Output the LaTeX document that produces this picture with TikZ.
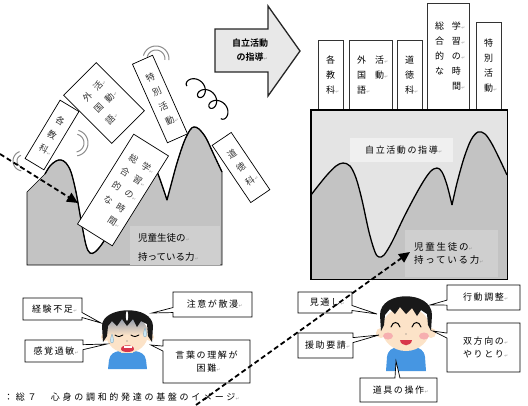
\documentclass[tikz,border=0pt]{standalone}
\usepackage{fontspec}
\setmainfont[BoldFont={Noto Sans CJK JP Bold}]{Noto Sans CJK JP}
\newfontfamily\spfont[LetterSpace=18]{Noto Sans CJK JP}
\newfontfamily\capfont[LetterSpace=30]{Noto Sans CJK JP}
\newfontfamily\dejavu{DejaVu Sans}
\usetikzlibrary{shapes.callouts,arrows.meta}

\definecolor{mtn}{HTML}{C3C3C3}
\definecolor{mtnlab}{HTML}{CFCFCF}
\definecolor{panel}{HTML}{E4E4E4}
\definecolor{panellab}{HTML}{F0F0F0}
\definecolor{arrowfill}{HTML}{E8E8E8}
\definecolor{skin}{HTML}{FCE3C8}
\definecolor{shirt}{HTML}{4696E2}
\definecolor{cheek}{HTML}{F6AFB0}
\definecolor{mouthred}{HTML}{D8364B}
\definecolor{sweat}{HTML}{A9D8F2}
\definecolor{gloom}{HTML}{8D98A8}

% small paragraph mark after a line
\newcommand\pmk{\rlap{\kern0.4pt{\fontsize{4.5}{4.5}\selectfont\color{black!40}\dejavu ↵}}}

\begin{document}
\begin{tikzpicture}[x=1pt,y=-1pt,
  every node/.style={inner sep=0pt},
  lbl/.style={draw=black, line width=0.7pt, fill=white, align=left, text=black!80,
    font=\fontsize{9}{16}\selectfont},
  stickbox/.style={draw=black!80, line width=0.5pt, fill=white, anchor=south, align=left,
    font=\fontsize{9}{15}\selectfont},
  callbox/.style={rectangle callout, draw=black, line width=0.7pt, fill=white,
    callout pointer width=5pt, align=center, font=\spfont\fontsize{9}{13}\selectfont},
  dasharrow/.style={line width=1.8pt, dash pattern=on 5pt off 3pt,
    -{Triangle[length=11pt,width=10pt]}},
  wave/.style={draw=black!45, line width=1pt},
  curve/.style={line width=1.3pt}]
\useasboundingbox (0,0) rectangle (528,405);

% ---------- left: the child's ability as a rugged range ----------
\filldraw[fill=mtn, draw=black, line width=0.6pt] (27,265) -- (27,192) -- (45,174)
  -- plot[smooth,tension=0.55] coordinates {(45,174) (50,166) (56,161) (61,160) (66,163) (71,172)
     (76,192) (81,220) (86,245) (90,253) (95,252) (102,244) (112,228) (125,205) (140,182)
     (150,168) (154,166) (158,174) (163,188) (167,200)}
  -- plot[smooth,tension=0.55] coordinates {(167,200) (171,185) (177,163) (184,142) (190,130)
     (194,127) (199,129) (206,138) (214,155) (222,172)}
  -- (222,265) -- cycle;
\draw[curve] plot[smooth,tension=0.55] coordinates {(45,174) (50,166) (56,161) (61,160) (66,163) (71,172)
     (76,192) (81,220) (86,245) (90,253) (95,252) (102,244) (112,228) (125,205) (140,182)
     (150,168) (154,166) (158,174) (163,188) (167,200)};
\draw[curve] plot[smooth,tension=0.55] coordinates {(167,200) (171,185) (177,163) (184,142) (190,130)
     (194,127) (199,129) (206,138) (214,155) (222,172)};

\node[fill=mtnlab, minimum width=90pt, minimum height=39pt] (lpow) at (175,245) {};
\node[anchor=west, align=left, font=\fontsize{9.5}{19}\selectfont] (lpowtxt) at (138,247)
  {児童生徒の\pmk\\持っている力\pmk};

% shaking marks and a coiled spring running down to the right
\draw[wave] plot[domain=165:-5, samples=25, smooth] ({156+9*cos(\x)}, {59-9*sin(\x)});
\draw[wave] plot[domain=165:-5, samples=25, smooth] ({156+13*cos(\x)}, {59-13*sin(\x)});
\draw[wave] plot[domain=75:-80, samples=25, smooth] ({75+9*cos(\x)}, {143-9*sin(\x)});
\draw[wave] plot[domain=75:-80, samples=25, smooth] ({75+13*cos(\x)}, {143-13*sin(\x)});
\draw[wave] plot[domain=110:260, samples=25, smooth] ({23+6*cos(\x)}, {161-6*sin(\x)});
\draw[wave] plot[domain=110:260, samples=25, smooth] ({23+10*cos(\x)}, {161-10*sin(\x)});
\draw[line width=1.1pt]
  plot[domain=0:18.85, samples=180, smooth]
  ({187 + 0.72*(2.5*\x - 6.5*sin(\x r)) - 0.69*(6.5*cos(\x r)-6.5)},
   {86 + 0.69*(2.5*\x - 6.5*sin(\x r)) + 0.72*(6.5*cos(\x r)-6.5)});

% subject cards, tossed about
\node[lbl, rotate=-31, minimum width=22pt, minimum height=68pt] (t1) at (52,135) {各\\教\\科\pmk};
\node[lbl, rotate=45, minimum width=46pt, minimum height=68pt] (t2) at (104,103)
  {外\hspace{6pt}活\pmk\\国\hspace{6pt}動\pmk\\語\pmk};
\node[lbl, rotate=24, minimum width=22pt, minimum height=86pt] (t3) at (160,99) {特\\別\\活\\動\pmk};
\node[lbl, rotate=-32, minimum width=41pt, minimum height=106pt] (t4) at (123,190)
  {総\hspace{6pt}学\pmk\\合\hspace{6pt}習\pmk\\的\hspace{6pt}の\pmk\\な\hspace{6pt}時\\\hphantom{な}\hspace{6pt}間\pmk};
\node[lbl, rotate=34, minimum width=23pt, minimum height=69pt] (t5) at (241,167.5) {道\\徳\\科\pmk};

% ---------- middle: guidance arrow ----------
\filldraw[fill=arrowfill, draw=black!85, line width=1.3pt]
  (215,29) -- (268,29) -- (268,6) -- (300,51) -- (268,96) -- (268,72) -- (215,72) -- cycle;
\node[font=\bfseries\fontsize{9}{14}\selectfont, align=center] (guide) at (250,50) {自立活動\\の指導\pmk};

% ---------- right: subjects standing on a steady base ----------
\node[stickbox, minimum width=25pt, minimum height=70pt] (s1) at (330.5,110) {各\\教\\科\pmk};
\node[stickbox, minimum width=43pt, minimum height=70pt] (s2) at (370.5,110)
  {外\hspace{9pt}活\pmk\\国\hspace{9pt}動\pmk\\語\pmk};
\node[stickbox, minimum width=25pt, minimum height=70pt] (s3) at (409.5,110) {道\\徳\\科\pmk};
\node[stickbox, minimum width=42pt, minimum height=107pt] (s4) at (448,110)
  {総\hspace{8pt}学\pmk\\合\hspace{8pt}習\pmk\\的\hspace{8pt}の\pmk\\な\hspace{8pt}時\\\hphantom{な}\hspace{8pt}間\pmk};
\node[stickbox, minimum width=25pt, minimum height=88pt] (s5) at (488.5,110) {特\\別\\活\\動\pmk};

\node[fill=panel, minimum width=196pt, minimum height=169pt, anchor=north west] (rpanel) at (311,110) {};
\fill[mtn] (311,279) -- (311,195)
  -- plot[smooth,tension=0.55] coordinates {(311,195) (318,186) (327,175) (336,166) (343,163) (350,166)
     (356,178) (362,200) (369,232) (375,252) (379,257) (384,255) (392,242) (405,215) (420,187)
     (430,172) (437,168) (442,172) (447,185) (452,205)}
  -- plot[smooth,tension=0.55] coordinates {(452,205) (457,183) (464,158) (471,140) (478,132)
     (485,134) (492,144) (500,160) (507,175)}
  -- (507,279) -- cycle;
\draw[curve] plot[smooth,tension=0.55] coordinates {(311,195) (318,186) (327,175) (336,166) (343,163) (350,166)
     (356,178) (362,200) (369,232) (375,252) (379,257) (384,255) (392,242) (405,215) (420,187)
     (430,172) (437,168) (442,172) (447,185) (452,205)};
\draw[curve] plot[smooth,tension=0.55] coordinates {(452,205) (457,183) (464,158) (471,140) (478,132)
     (485,134) (492,144) (500,160) (507,175)};
\draw[line width=1.6pt] (rpanel.north west) rectangle (rpanel.south east);

\node[fill=panellab, minimum width=103pt, minimum height=24pt, font=\spfont\fontsize{9}{11}\selectfont]
  (rguide) at (401.5,150) {自立活動の指導\pmk};
\node[fill=mtnlab, minimum width=93pt, minimum height=47pt] (rpow) at (451.5,253.5) {};
\node[anchor=west, align=left, font=\spfont\fontsize{9.5}{13}\selectfont] (rpowtxt) at (414,253)
  {児童生徒の\pmk\\持っている力\pmk};

% ---------- worried child ----------
\fill[shirt] (108,369) -- (109,360) .. controls (110,354) and (114,352) .. (119,351) -- (135,351)
  .. controls (141,352) and (145,354) .. (146,360) -- (147,369) -- cycle;
\fill[skin] (121,345) rectangle (133,353);
\fill[skin] (105,337) circle (4pt);
\fill[skin] (150,337) circle (4pt);
\fill[skin] (127,334) ellipse (21pt and 19pt);
\begin{scope}
  \clip (127,334) ellipse (21pt and 19pt);
  \shade[top color=gloom, bottom color=skin] (105,318) rectangle (150,335);
\end{scope}
\fill[black!90] (103,342) -- (102,326) .. controls (102,306) and (152,304) .. (153,326) -- (152,342)
  -- (148,336) -- (147,324) -- (141,321) -- (137,327) -- (133,319) -- (127,326) -- (122,319)
  -- (117,326) -- (112,321) -- (108,326) -- (107,336) -- cycle;
\fill[white] (127,316) ellipse (1.2pt and 5pt);
\draw[line width=0.9pt, line cap=round] (115,335) .. controls (118,337) and (121,337) .. (123,335);
\draw[line width=0.9pt, line cap=round] (131,335) .. controls (134,337) and (137,337) .. (139,335);
\filldraw[fill=sweat!60, draw=sweat!80!black, line width=0.4pt]
  (112,334) .. controls (110,339) and (110,343) .. (112,343) .. controls (114,343) and (114,339) .. (112,334);
\filldraw[fill=sweat!60, draw=sweat!80!black, line width=0.4pt]
  (145,328) .. controls (143,333) and (143,337) .. (145,337) .. controls (147,337) and (147,333) .. (145,328);
\fill[black!60] (127,341) circle (0.7pt);
\fill[mouthred] (121,349) .. controls (121,344) and (134,344) .. (134,349)
  .. controls (134,353) and (121,353) .. (121,349);
\fill[white] (123.5,346) rectangle (131.5,347.6);

% ---------- smiling child ----------
\fill[shirt] (386,371) -- (387,357) .. controls (388,350) and (392,348) .. (398,347) -- (414,347)
  .. controls (420,348) and (424,350) .. (425,357) -- (426,371) -- cycle;
\fill[skin] (401,342) rectangle (411,350);
\fill[skin] (381,333) circle (5pt);
\fill[skin] (431,333) circle (5pt);
\fill[skin] (406,329) ellipse (24pt and 22pt);
\fill[black!90] (381,331) -- (380,315) .. controls (380,290) and (432,290) .. (432,315) -- (431,331)
  -- (428,325) -- (427,314) -- (421,310) -- (417,316) -- (412,308) -- (406,314) -- (400,307)
  -- (395,314) -- (390,309) -- (385,315) -- (384,325) -- cycle;
\fill[cheek] (388,336) ellipse (5pt and 3.5pt);
\fill[cheek] (424,336) ellipse (5pt and 3.5pt);
\draw[line width=1pt, line cap=round] (391,327) .. controls (393,321) and (398,321) .. (400,327);
\draw[line width=1pt, line cap=round] (412,327) .. controls (414,321) and (419,321) .. (421,327);
\fill[black!60] (406,334) circle (0.7pt);
\fill[mouthred] (400,340) .. controls (401,347) and (411,347) .. (412,340) -- cycle;

% ---------- callouts ----------
\node[callbox, minimum width=59pt, minimum height=22pt, callout absolute pointer={(101,323)}] (c1) at (52.5,309) {経験不足\pmk};
\node[callbox, minimum width=79pt, minimum height=25pt, callout absolute pointer={(152,313)}] (c2) at (212.5,304.5) {注意が散漫\pmk};
\node[callbox, minimum width=58pt, minimum height=22pt, callout absolute pointer={(107,344)}] (c3) at (54,351) {感覚過敏\pmk};
\node[callbox, minimum width=87pt, minimum height=43pt, callout absolute pointer={(151,345)}] (c4) at (206.5,361.5) {言葉の理解が\\困難\pmk};
\node[callbox, minimum width=54pt, minimum height=21pt, callout absolute pointer={(377,314)}] (c5) at (325,302.5) {見通し\pmk};
\node[callbox, minimum width=73pt, minimum height=25pt, callout absolute pointer={(430,305)}] (c6) at (483.5,297.5) {行動調整\pmk};
\node[callbox, minimum width=55pt, minimum height=25pt, callout absolute pointer={(379,335)}] (c7) at (325.5,345.5) {援助要請\pmk};
\node[callbox, minimum width=73pt, minimum height=49pt, callout absolute pointer={(433,331)}] (c8) at (483.5,347.5) {双方向の\pmk\\やりとり\pmk};
\node[callbox, minimum width=77pt, minimum height=24pt, callout absolute pointer={(396,361)}] (c9) at (398.5,390) {道具の操作\pmk};

% caption
\node[anchor=west, font=\capfont\fontsize{9}{11}\selectfont] (cap) at (4,397) {：総７　心身の調和的発達の基盤のイメージ\pmk};

% ---------- dashed arrows ----------
\coordinate (dA0) at (0,154);
\coordinate (dA1) at (78,203);
\draw[dasharrow] (dA0) -- (dA1);
\coordinate (dB0) at (196,405);
\coordinate (dB1) at (410,252);
\draw[dasharrow] (dB0) -- (dB1);
\end{tikzpicture}
\end{document}
